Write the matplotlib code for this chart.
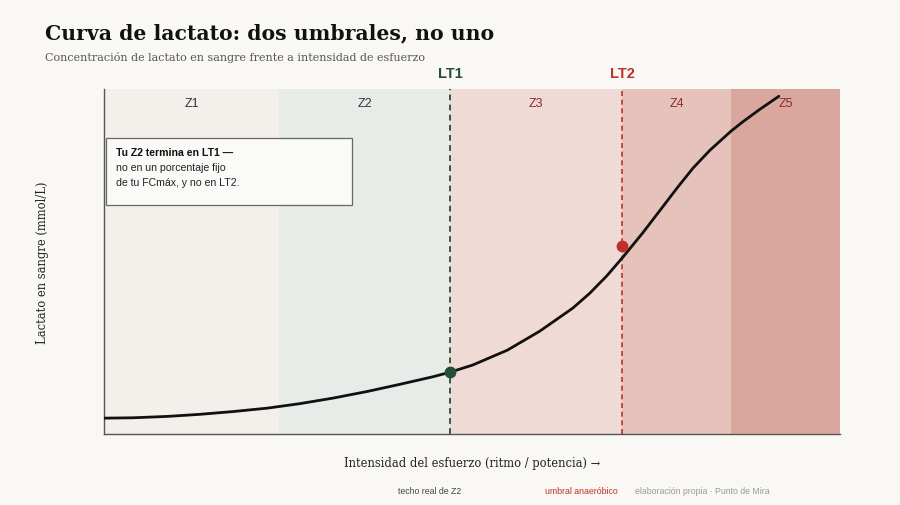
import numpy as np
import matplotlib
matplotlib.use("Agg")
import matplotlib.pyplot as plt
from matplotlib.patches import Rectangle

# datos (intensidad 0-100, lactato en escala relativa 0-10)
intensidad = [0.0, 3.9, 8.6, 13.0, 17.5, 22.2, 26.6, 31.1, 35.7, 40.2, 44.7,
              47.0, 50.1, 54.8, 59.2, 63.7, 66.0, 68.3, 70.4, 73.2, 75.5,
              77.9, 80.0, 82.3, 85.2, 86.8, 89.1, 91.7]
lactato = [0.46, 0.47, 0.51, 0.57, 0.65, 0.75, 0.88, 1.04, 1.23, 1.44, 1.66,
           1.79, 2.00, 2.43, 2.98, 3.65, 4.08, 4.58, 5.10, 5.83, 6.47,
           7.14, 7.70, 8.22, 8.78, 9.05, 9.41, 9.79]

zonas = ["Z1", "Z2", "Z3", "Z4", "Z5"]
limites_zonas = [0, 23.8, 47.0, 70.4, 85.2, 100]
colores_zonas = ["#f3f0eb", "#e8ece8", "#f0dad5", "#e5c2ba", "#d9a79d"]
colores_etiquetas = ["#333333", "#333333", "#8e2b25", "#8e2b25", "#8e2b25"]

lt1_x, lt1_y = 47.0, 1.79
lt2_x, lt2_y = 70.4, 5.45

fondo = "#f9f8f5"
verde = "#264d38"
rojo = "#c0302a"

fig = plt.figure(figsize=(9, 5.06), dpi=100, facecolor=fondo)
ax = fig.add_axes([0.1156, 0.1403, 0.8177, 0.6818])
ax.set_facecolor(fondo)
ax.set_xlim(0, 100)
ax.set_ylim(0, 10)

# bandas de zonas
for i in range(len(zonas)):
    x0, x1 = limites_zonas[i], limites_zonas[i + 1]
    ax.axvspan(x0, x1, color=colores_zonas[i], lw=0, zorder=0)
    ax.text((x0 + x1) / 2, 9.6, zonas[i], ha="center", va="center",
            fontsize=9, color=colores_etiquetas[i], family="Liberation Sans",
            zorder=3)

# umbrales
ax.axvline(lt1_x, color="#35564a", ls=(0, (3, 2.2)), lw=1.4, zorder=2)
ax.axvline(lt2_x, color=rojo, ls=(0, (3, 2.2)), lw=1.2, zorder=2)
ax.text(lt1_x, 1.045, "LT1", transform=ax.get_xaxis_transform(), ha="center",
        va="center", fontsize=10.5, fontweight="bold", color=verde,
        family="Liberation Sans")
ax.text(lt2_x, 1.045, "LT2", transform=ax.get_xaxis_transform(), ha="center",
        va="center", fontsize=10.5, fontweight="bold", color=rojo,
        family="Liberation Sans")

# curva
ax.plot(intensidad, lactato, color="#111111", lw=2.0, zorder=4,
        solid_capstyle="round", solid_joinstyle="round")
ax.plot([lt1_x], [lt1_y], "o", color=verde, ms=7.5, zorder=5)
ax.plot([lt2_x], [lt2_y], "o", color=rojo, ms=7.5, zorder=5)

# caja de nota
caja = Rectangle((0.002, 0.663), 0.335, 0.195, transform=ax.transAxes,
                 facecolor="#fafaf8", edgecolor="#666666", lw=0.9, zorder=6)
ax.add_patch(caja)
ax.text(0.016, 0.816, "Tu Z2 termina en LT1 —", transform=ax.transAxes,
        fontsize=7.6, fontweight="bold", color="#111111",
        family="Liberation Sans", va="center", zorder=7)
ax.text(0.016, 0.773, "no en un porcentaje fijo", transform=ax.transAxes,
        fontsize=7.6, color="#222222", family="Liberation Sans",
        va="center", zorder=7)
ax.text(0.016, 0.730, "de tu FCmáx, y no en LT2.", transform=ax.transAxes,
        fontsize=7.6, color="#222222", family="Liberation Sans",
        va="center", zorder=7)

ax.set_xticks([])
ax.set_yticks([])
for lado in ["top", "right"]:
    ax.spines[lado].set_visible(False)
for lado in ["left", "bottom"]:
    ax.spines[lado].set_color("#555555")
    ax.spines[lado].set_linewidth(1.0)

ax.set_ylabel("Lactato en sangre (mmol/L)", family="DejaVu Serif",
              fontsize=8.3, color="#222222", va="center")
ax.yaxis.set_label_coords(-0.084, 0.5)
ax.set_xlabel("Intensidad del esfuerzo (ritmo / potencia) →",
              family="DejaVu Serif", fontsize=8.3, color="#222222",
              va="center")
ax.xaxis.set_label_coords(0.5, -0.084)

# títulos
fig.text(0.05, 0.934, "Curva de lactato: dos umbrales, no uno",
         family="DejaVu Serif", fontweight="bold", fontsize=14.7,
         color="#111111", va="center")
fig.text(0.05, 0.887, "Concentración de lactato en sangre frente a intensidad de esfuerzo",
         family="DejaVu Serif", fontsize=8, color="#555555", va="center")

# pie
fig.text(430 / 900, 1 - 492 / 506, "techo real de Z2", ha="center",
         va="center", fontsize=6.3, color="#444444", family="Liberation Sans")
fig.text(581 / 900, 1 - 492 / 506, "umbral anaeróbico", ha="center",
         va="center", fontsize=6.3, color=rojo, family="Liberation Sans")
fig.text(770 / 900, 1 - 492 / 506, "elaboración propia · Punto de Mira",
         ha="right", va="center", fontsize=6.3, color="#999999",
         family="Liberation Sans")

fig.savefig("out.png", dpi=100, facecolor=fondo)
